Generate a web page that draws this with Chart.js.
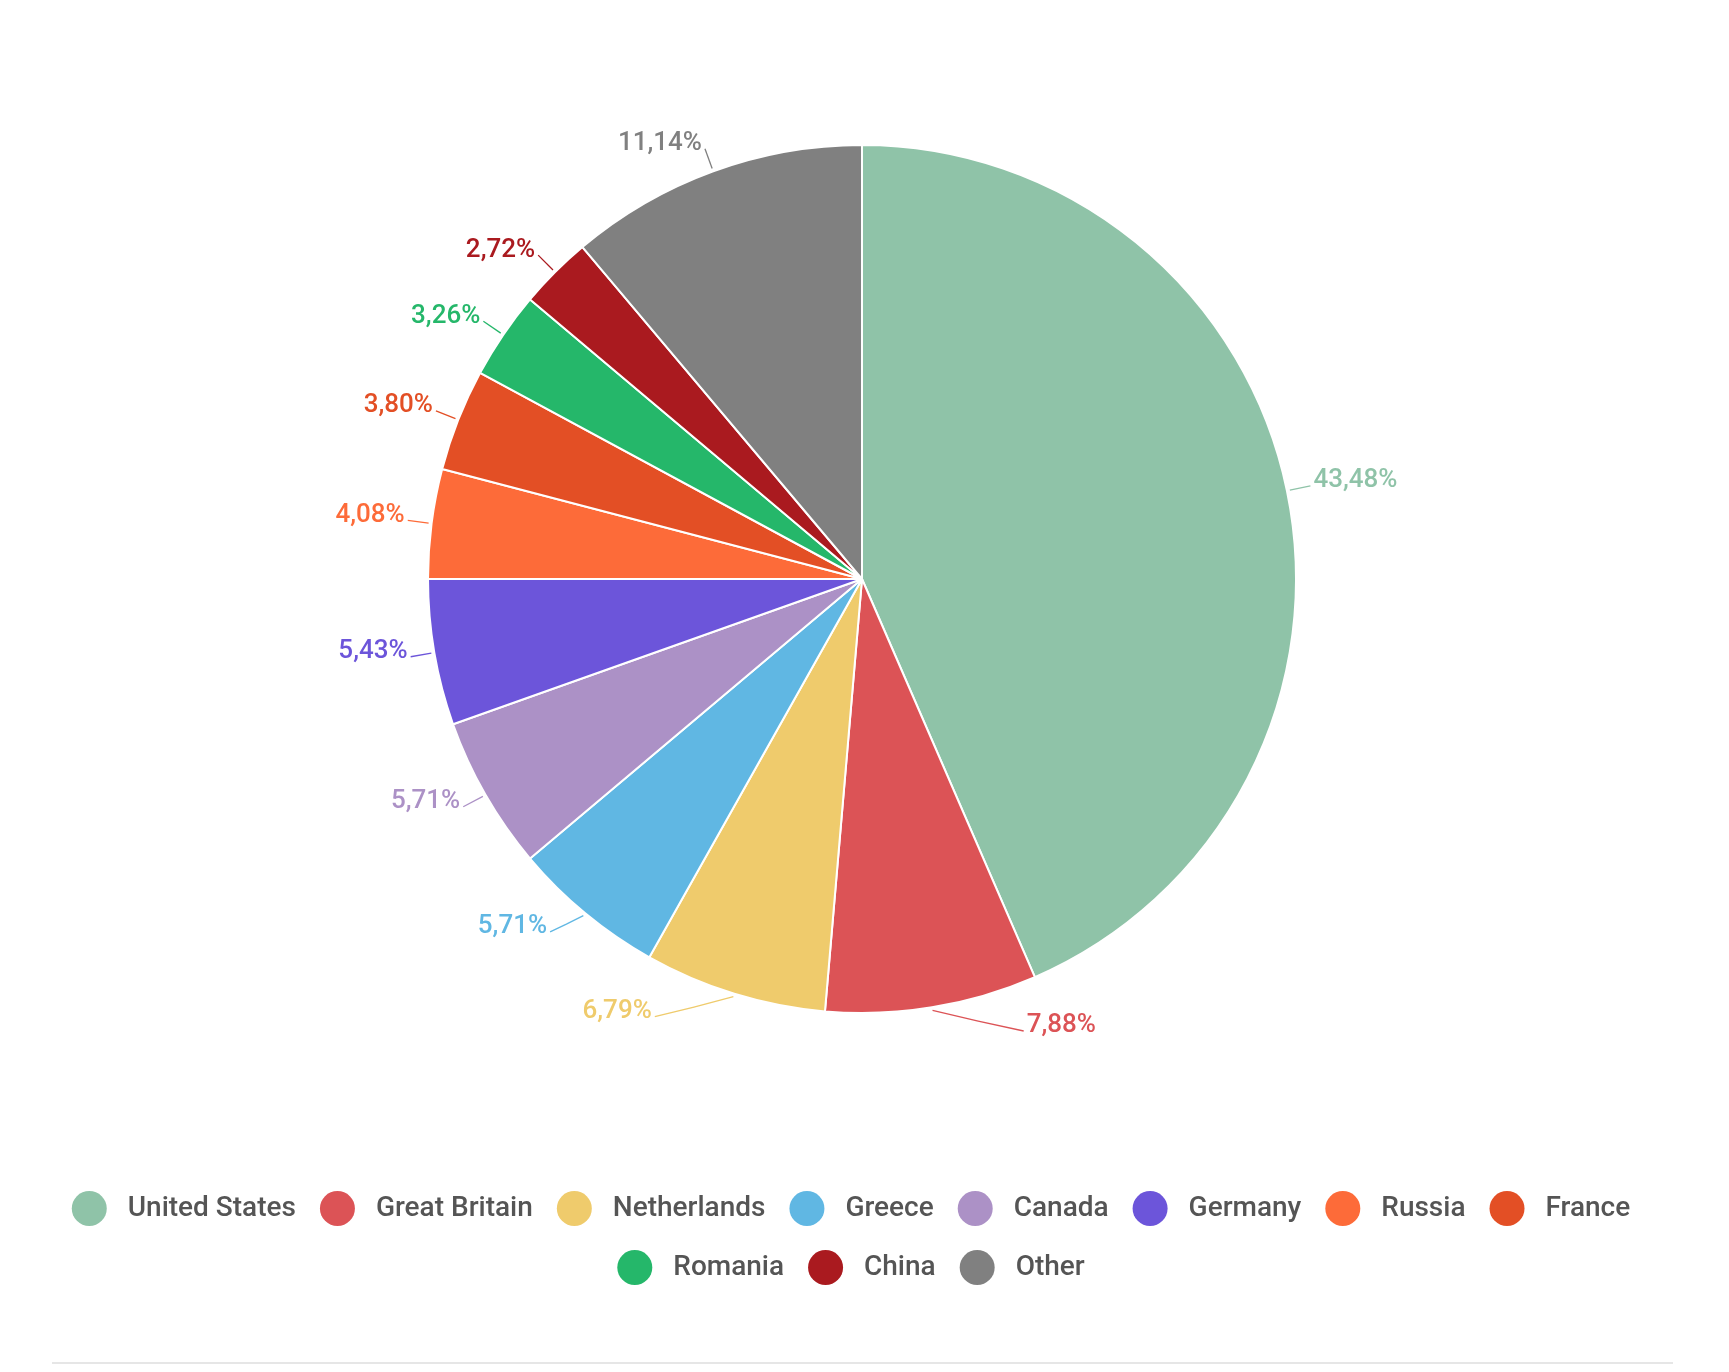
<!DOCTYPE html>
<html>
<head>
<meta charset="utf-8">
<script src="https://cdn.jsdelivr.net/npm/chart.js@4.4.1/dist/chart.umd.min.js"></script>
<style>
  html, body { margin: 0; padding: 0; background: #fff; }
  #wrap { position: relative; width: 1729px; height: 1372px; }
  #rule { position: absolute; left: 52px; top: 1362px; width: 1621px; height: 2px; background: #e6e6e6; }
</style>
</head>
<body>
<div id="wrap">
  <canvas id="chart"></canvas>
  <div id="rule"></div>
</div>
<script>
const countries = ["United States", "Great Britain", "Netherlands", "Greece", "Canada", "Germany", "Russia", "France", "Romania", "China", "Other"];
const shares = [43.48, 7.88, 6.79, 5.71, 5.71, 5.43, 4.08, 3.80, 3.26, 2.72, 11.14];
const sliceColors = ["#8fc3a8", "#dc5356", "#efcb6c", "#60b7e3", "#ac91c6", "#6c55da", "#fd6b39", "#e34f25", "#25b76a", "#aa1a1f", "#808080"];

const formatShare = v => v.toFixed(2).replace(".", ",") + "%";

// percentage labels outside the pie, with a short leader line
const outsideLabels = {
    id: "outsideLabels",
    afterLayout(chart) {
        // nudge the legend a little left and down
        chart.legend.left -= 11;
        chart.legend.right -= 11;
        chart.legend.top += 9;
        chart.legend.bottom += 9;
    },
    afterDatasetsDraw(chart) {
        const ctx = chart.ctx;
        const meta = chart.getDatasetMeta(0);
        ctx.save();
        ctx.font = "500 26px Roboto";
        ctx.textBaseline = "middle";
        ctx.lineWidth = 1.3;
        meta.data.forEach((arc, i) => {
            const mid = (arc.startAngle + arc.endAngle) / 2;
            const cos = Math.cos(mid), sin = Math.sin(mid);
            const r = arc.outerRadius;
            const side = cos >= 0 ? 1 : -1;
            // slices near the bottom get their label pushed sideways
            const push = sin > 0 ? 95 * Math.pow(sin, 6) * side : 0;
            const ex = arc.x + cos * (r + 3), ey = arc.y + sin * (r + 3);
            const bx = arc.x + cos * (r + 14), by = arc.y + sin * (r + 14);
            const ax = arc.x + cos * (r + 24) + push, ay = arc.y + sin * (r + 24);

            ctx.strokeStyle = sliceColors[i];
            ctx.beginPath();
            ctx.moveTo(ex, ey);
            if (Math.abs(push) > 5) ctx.lineTo(bx + push * 0.5, by);
            ctx.lineTo(ax, ay);
            ctx.stroke();

            ctx.fillStyle = sliceColors[i];
            ctx.textAlign = side > 0 ? "left" : "right";
            ctx.fillText(formatShare(shares[i]), ax + side * 3, ay - 5);
        });
        ctx.restore();
    }
};

new Chart(document.getElementById("chart"), {
    type: "pie",
    data: {
        labels: countries,
        datasets: [{
            data: shares,
            backgroundColor: sliceColors,
            borderColor: "#ffffff",
            borderWidth: 2
        }]
    },
    options: {
        responsive: true,
        maintainAspectRatio: false,
        animation: false,
        events: [],
        radius: 434,
        layout: { padding: { top: 0, bottom: 86, left: 0, right: 5 } },
        plugins: {
            tooltip: { enabled: false },
            legend: {
                position: "bottom",
                labels: {
                    font: { family: "Roboto", size: 28, weight: "500" },
                    color: "#555555",
                    boxWidth: 35,
                    boxHeight: 35,
                    useBorderRadius: true,
                    borderRadius: 17.5,
                    padding: 24,
                    generateLabels: () => countries.map((name, i) => ({
                        text: " " + name,
                        fillStyle: sliceColors[i],
                        strokeStyle: sliceColors[i],
                        fontColor: "#555555",
                        lineWidth: 0,
                        borderRadius: 17.5,
                        hidden: false,
                        index: i
                    }))
                }
            }
        }
    },
    plugins: [outsideLabels]
});
</script>
</body>
</html>
